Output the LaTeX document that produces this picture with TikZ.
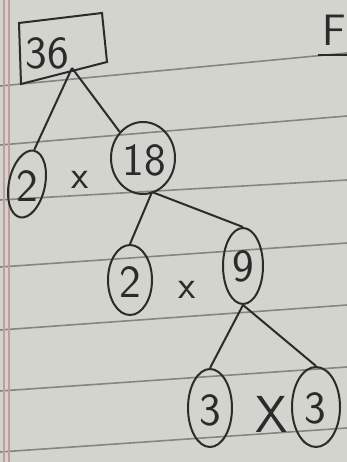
\documentclass[tikz,border=0pt]{standalone}
\usetikzlibrary{shapes.geometric}
\definecolor{paper}{HTML}{D3D4CD}
\definecolor{rule}{HTML}{85867F}
\definecolor{ink}{HTML}{2B2B2B}
\definecolor{margin}{HTML}{C49C9A}
\begin{document}
\begin{tikzpicture}[x=1pt,y=-1pt,
  num/.style={font=\sffamily\fontsize{46}{46}\selectfont, text=ink},
  oval/.style={draw=ink, line width=2pt, ellipse, inner sep=0pt},
  link/.style={draw=ink, line width=2pt},
  times/.style={font=\sffamily\fontsize{40}{40}\selectfont, text=ink},
  ruleline/.style={draw=rule, line width=1.6pt}]
\useasboundingbox (0,0) rectangle (347,462);
\begin{scope}
\clip (0,0) rectangle (347,462);
\fill[paper] (0,0) rectangle (347,462);
% ruled lines
\draw[ruleline] (0,86) -- (347,53);
\draw[ruleline] (0,145) -- (347,116);
\draw[ruleline] (0,200) -- (347,180);
\draw[ruleline] (0,267) -- (347,243);
\draw[ruleline] (0,330) -- (347,305);
\draw[ruleline] (0,391) -- (347,367);
\draw[ruleline] (0,452) -- (347,428);
% margin
\draw[margin, line width=1.5pt] (4,0) -- (4,462);
\draw[margin, line width=1.5pt] (9,0) -- (9,462);
% heading letter at right edge
\node[num, anchor=east, inner sep=0pt, font=\sffamily\fontsize{44}{44}\selectfont] (fh) at (346,30) {F};
\coordinate (u1) at (318,55);
\coordinate (u2) at (347,55);
\draw[link, line width=2.4pt] (u1) -- (u2);
% root box
\coordinate (b1) at (19,23);
\coordinate (b2) at (102,13);
\coordinate (b3) at (107,62);
\coordinate (b4) at (21,84);
\draw[link] (b1) -- (b2) -- (b3) -- (b4) -- cycle;
\node[num] (n36) at (47,53) {36};
\coordinate (j36) at (72,68);
% level 1
\node[oval, minimum width=36pt, minimum height=68pt, rotate=-12] (n2a) at (27,184) {};
\node[num] (t2a) at (27,186) {2};
\node[times] (x1) at (80,180) {x};
\node[oval, minimum width=64pt, minimum height=72pt] (n18) at (143,158) {};
\node[num] (t18) at (144,160) {18};
\coordinate (j18) at (152,192);
% level 2
\node[oval, minimum width=44pt, minimum height=70pt] (n2b) at (130,280) {};
\node[num] (t2b) at (130,282) {2};
\node[times] (x2) at (187,290) {x};
\node[oval, minimum width=40pt, minimum height=76pt] (n9) at (243,266) {};
\node[num] (t9) at (243,266) {9};
\coordinate (j9) at (243,305);
% level 3
\node[oval, minimum width=44pt, minimum height=78pt] (n3a) at (210,408) {};
\node[num] (t3a) at (210,410) {3};
\node[times, font=\sffamily\fontsize{52}{52}\selectfont] (x3) at (272,414) {X};
\node[oval, minimum width=48pt, minimum height=80pt] (n3b) at (316,407) {};
\node[num] (t3b) at (315,408) {3};
% connectors
\draw[link] (j36) -- (n2a.north);
\draw[link] (j36) -- (n18.north west);
\draw[link] (j18) -- (n2b.north);
\draw[link] (j18) -- (n9.north);
\draw[link] (j9) -- (n3a.north);
\draw[link] (j9) -- (n3b.north);
\end{scope}
\end{tikzpicture}
\end{document}
